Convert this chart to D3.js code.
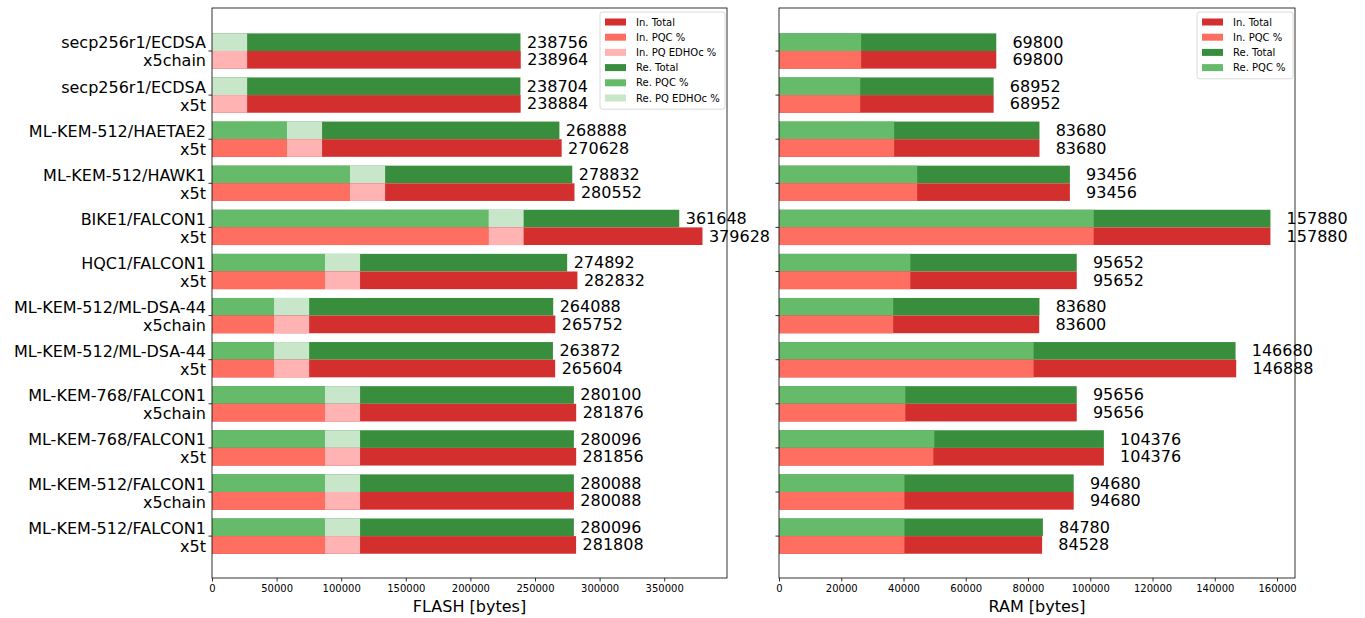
<!DOCTYPE html>
<html><head><meta charset="utf-8">
<script src="https://cdn.jsdelivr.net/npm/d3@7/dist/d3.min.js"></script>
<style>
body{margin:0;background:#fff;}
text{font-family:"DejaVu Sans",sans-serif;}
</style></head>
<body>
<svg id="chart" width="1365" height="618"></svg>
<script>
const categories = [
  ["secp256r1/ECDSA","x5chain"],
  ["secp256r1/ECDSA","x5t"],
  ["ML-KEM-512/HAETAE2","x5t"],
  ["ML-KEM-512/HAWK1","x5t"],
  ["BIKE1/FALCON1","x5t"],
  ["HQC1/FALCON1","x5t"],
  ["ML-KEM-512/ML-DSA-44","x5chain"],
  ["ML-KEM-512/ML-DSA-44","x5t"],
  ["ML-KEM-768/FALCON1","x5chain"],
  ["ML-KEM-768/FALCON1","x5t"],
  ["ML-KEM-512/FALCON1","x5chain"],
  ["ML-KEM-512/FALCON1","x5t"]
];
// FLASH [bytes]
const flashReTotal = [238756, 238704, 268888, 278832, 361648, 274892, 264088, 263872, 280100, 280096, 280088, 280096];
const flashInTotal = [238964, 238884, 270628, 280552, 379628, 282832, 265752, 265604, 281876, 281856, 280088, 281808];
const flashPqc     = [0, 0, 58000, 106800, 214000, 87400, 48000, 48000, 87400, 87400, 87400, 87400];
const flashEdhoc   = [27200, 27200, 27200, 27200, 27200, 27200, 27200, 27200, 27200, 27200, 27200, 27200];
// RAM [bytes]
const ramReTotal = [69800, 68952, 83680, 93456, 157880, 95652, 83680, 146680, 95656, 104376, 94680, 84780];
const ramInTotal = [69800, 68952, 83680, 93456, 157880, 95652, 83600, 146888, 95656, 104376, 94680, 84528];
const ramRePqc   = [26400, 26100, 37000, 44400, 101100, 42200, 36700, 81800, 40600, 49900, 40300, 40300];
const ramInPqc   = [26400, 26100, 37000, 44400, 101100, 42200, 36700, 81800, 40600, 49600, 40300, 40300];

const flashTicks = [0, 50000, 100000, 150000, 200000, 250000, 300000, 350000];
const ramTicks = [0, 20000, 40000, 60000, 80000, 100000, 120000, 140000, 160000];

const C = {
  inTotal:"#d32f2f", inPqc:"#ff6f61", inEdhoc:"#ffb3b3",
  reTotal:"#388e3c", rePqc:"#66bb6a", reEdhoc:"#c8e6c9"
};

const svg = d3.select("#chart");
const yTop = 8, yBottom = 578;
const y = d3.scaleLinear().domain([-0.975, 11.95]).range([yTop, yBottom]);
const bh = 0.4;

function panel(opts){
  const g = svg.append("g");
  const x = d3.scaleLinear().domain([0, opts.max]).range([opts.x0, opts.x1]);
  const idx = d3.range(categories.length);
  const rows = [
    {yoff:-bh, total:opts.reTotal, pqc:opts.rePqc, edhoc:opts.edhoc, cT:C.reTotal, cP:C.rePqc, cE:C.reEdhoc},
    {yoff:0, total:opts.inTotal, pqc:opts.inPqc, edhoc:opts.edhoc, cT:C.inTotal, cP:C.inPqc, cE:C.inEdhoc}
  ];
  rows.forEach(r=>{
    const gg = g.append("g");
    gg.selectAll("rect.t").data(idx).join("rect").attr("class","t")
      .attr("x", x(0)).attr("width", i=>x(r.total[i])-x(0))
      .attr("y", i=>y(i+r.yoff)).attr("height", y(bh)-y(0))
      .attr("fill", r.cT);
    gg.selectAll("rect.p").data(idx).join("rect").attr("class","p")
      .attr("x", x(0)).attr("width", i=>x(r.pqc[i])-x(0))
      .attr("y", i=>y(i+r.yoff)).attr("height", y(bh)-y(0))
      .attr("fill", r.cP);
    if (r.edhoc){
      gg.selectAll("rect.e").data(idx).join("rect").attr("class","e")
        .attr("x", i=>x(r.pqc[i])).attr("width", i=>x(r.edhoc[i])-x(0))
        .attr("y", i=>y(i+r.yoff)).attr("height", y(bh)-y(0))
        .attr("fill", r.cE);
    }
    gg.selectAll("text.v").data(idx).join("text").attr("class","v")
      .attr("x", i=>x(r.total[i]+opts.labOff))
      .attr("y", i=>y(i+r.yoff+bh/2))
      .attr("dominant-baseline","central")
      .attr("font-size","16px").attr("fill","#000")
      .text(i=>r.total[i]);
  });
  g.append("rect").attr("x",opts.x0).attr("y",yTop).attr("width",opts.x1-opts.x0).attr("height",yBottom-yTop)
    .attr("fill","none").attr("stroke","#000").attr("stroke-width",0.8);
  const xa = g.append("g").attr("transform",`translate(0,${yBottom})`)
    .call(d3.axisBottom(x).tickValues(opts.ticks).tickFormat(d3.format("d")).tickSize(3.5).tickPadding(3));
  xa.select(".domain").remove();
  xa.selectAll("text").attr("font-size","10px").attr("font-family","DejaVu Sans").attr("fill","#000");
  xa.selectAll("line").attr("stroke","#000").attr("stroke-width",0.8);
  g.append("text").attr("x",(opts.x0+opts.x1)/2).attr("y",606).attr("text-anchor","middle")
    .attr("dominant-baseline","central").attr("font-size","16px").text(opts.title);
  g.selectAll("line.yt").data(idx).join("line").attr("class","yt")
    .attr("x1",opts.x0-3.5).attr("x2",opts.x0).attr("y1",i=>y(i)).attr("y2",i=>y(i))
    .attr("stroke","#000").attr("stroke-width",0.8);
  if (opts.ylabels){
    idx.forEach(i=>{
      const t = g.append("text").attr("text-anchor","end").attr("font-size","16px").attr("fill","#000");
      t.append("tspan").attr("x",opts.x0-6).attr("y",y(i)-8).attr("dominant-baseline","central").text(categories[i][0]);
      t.append("tspan").attr("x",opts.x0-6).attr("y",y(i)+10).attr("dominant-baseline","central").text(categories[i][1]);
    });
  }
  const L = opts.legend;
  const lg = g.append("g");
  lg.append("rect").attr("x",L.x).attr("y",L.y).attr("width",L.w).attr("height",L.items.length*15.2+6)
    .attr("rx",2.5).attr("fill","#fff").attr("fill-opacity",0.8).attr("stroke","#d0d0d0").attr("stroke-width",0.8);
  L.items.forEach((it,k)=>{
    const cy = L.y+10+k*15.2;
    lg.append("rect").attr("x",L.x+5).attr("y",cy-3.5).attr("width",21).attr("height",7).attr("fill",it[1]);
    lg.append("text").attr("x",L.x+36).attr("y",cy).attr("dominant-baseline","central")
      .attr("font-size","10px").attr("fill","#000").text(it[0]);
  });
}

panel({x0:212, x1:727, max:398600, reTotal:flashReTotal, inTotal:flashInTotal, rePqc:flashPqc, inPqc:flashPqc,
  edhoc:flashEdhoc, labOff:5000, ticks:flashTicks, title:"FLASH [bytes]", ylabels:true,
  legend:{x:600, y:12, w:125, items:[["In. Total",C.inTotal],["In. PQC %",C.inPqc],["In. PQ EDHOc %",C.inEdhoc],
    ["Re. Total",C.reTotal],["Re. PQC %",C.rePqc],["Re. PQ EDHOc %",C.reEdhoc]]}});
panel({x0:779, x1:1295, max:165774, reTotal:ramReTotal, inTotal:ramInTotal, rePqc:ramRePqc, inPqc:ramInPqc,
  edhoc:null, labOff:5200, ticks:ramTicks, title:"RAM [bytes]", ylabels:false,
  legend:{x:1197, y:12, w:96, items:[["In. Total",C.inTotal],["In. PQC %",C.inPqc],["Re. Total",C.reTotal],["Re. PQC %",C.rePqc]]}});
</script>
</body></html>
